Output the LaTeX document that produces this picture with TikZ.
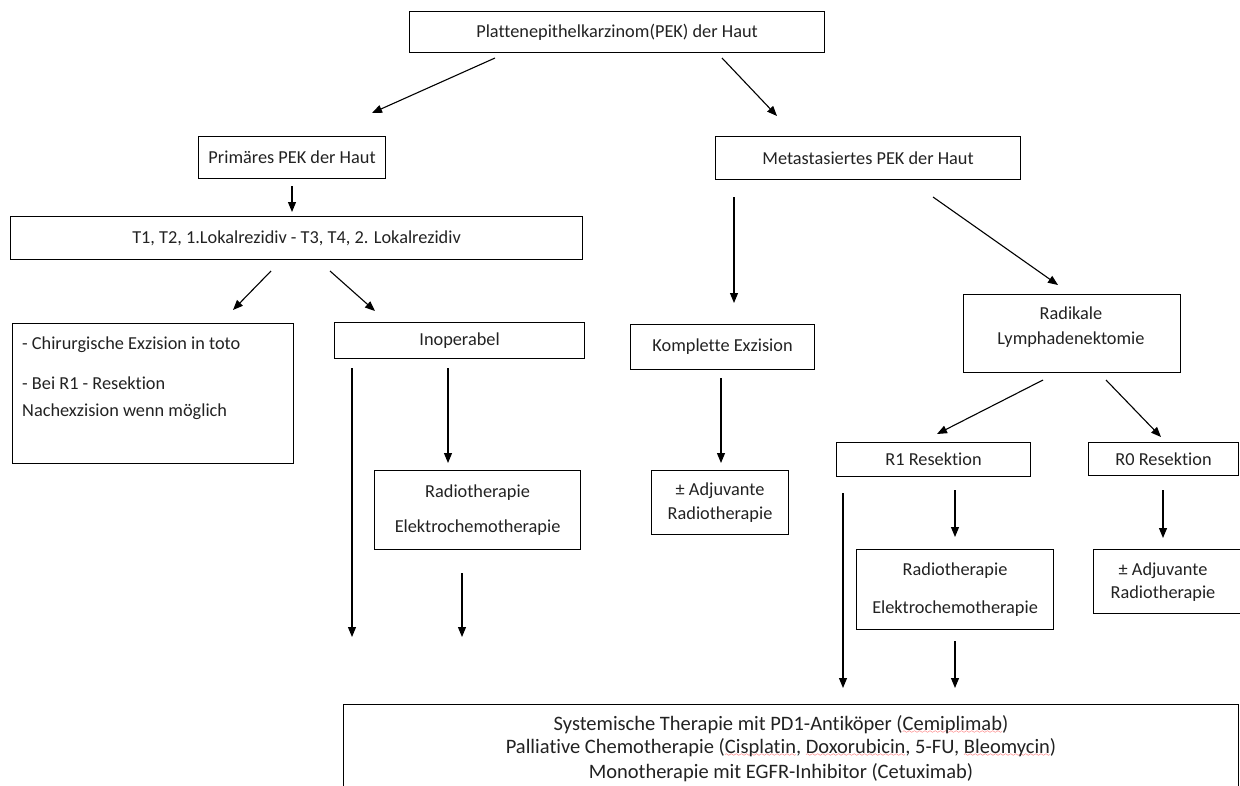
\documentclass[tikz,border=0pt]{standalone}
\usepackage{fontspec}
\setmainfont{Carlito}[Ligatures={NoCommon}]
\usetikzlibrary{arrows.meta,calc}
\font\mysixly=lasy6
\newcommand\spellerr[1]{\setbox0\hbox{#1}\rlap{\textcolor{red}{\lower3.5pt\hbox to \wd0{\xleaders\hbox{\mysixly\char58}\hfil}}}\box0}
\definecolor{txtc}{HTML}{222222}
\begin{document}
\begin{tikzpicture}[x=1pt,y=-1pt,
  box/.style={draw=black, line width=1.1pt, anchor=north west, inner sep=0pt, align=center,
    text=txtc, font=\fontsize{18.3}{24}\selectfont},
  txt/.style={text=txtc, inner sep=0pt, font=\fontsize{18.3}{24}\selectfont},
  bigtxt/.style={text=txtc, inner sep=0pt, font=\fontsize{20.5}{24}\selectfont},
  arr/.style={draw=black, line width=1.1pt, -{Triangle[length=10pt,width=8pt]}}]
\useasboundingbox (0,0) rectangle (1240,785);
\clip (0,0) rectangle (1240,785);

% boxes
\node[box, minimum width=415pt, minimum height=41pt] (top) at (409,11) {Plattenepithelkarzinom(PEK) der Haut};
\node[box, minimum width=187pt, minimum height=42pt] (prim) at (198,136) {Primäres PEK der Haut};
\node[box, minimum width=305pt, minimum height=43pt] (meta) at (715,136) {Metastasiertes PEK der Haut};
\node[box, minimum width=572pt, minimum height=43pt] (tbox) at (10,216) {T1, T2, 1.Lokalrezidiv - T3, T4, 2. Lokalrezidiv};
\node[box, minimum width=281pt, minimum height=140pt] (lbox) at (12,323) {};
\node[txt, anchor=base west, align=left] (lboxt) at (22,416) {- Chirurgische Exzision in toto\\[16pt]- Bei R1 - Resektion\\[3pt]Nachexzision wenn möglich};
\node[box, minimum width=250pt, minimum height=36pt] (inop) at (334,322) {Inoperabel};
\node[box, minimum width=206pt, minimum height=79pt] (rad1) at (374,470) {Radiotherapie\\[11pt]Elektrochemotherapie};
\node[box, minimum width=184pt, minimum height=45pt] (kompl) at (630,324) {Komplette Exzision};
\node[box, minimum width=137pt, minimum height=64pt] (adj1) at (651,470) {± Adjuvante\\[0pt]Radiotherapie};
\node[box, minimum width=217pt, minimum height=78pt] (radik) at (963,294) {};
\node[txt, anchor=base, align=center] (radikt) at (1071,344) {Radikale\\[1pt]Lymphadenektomie};
\node[box, minimum width=194pt, minimum height=34pt] (r1) at (836,442) {R1 Resektion};
\node[box, minimum width=150pt, minimum height=33pt] (r0) at (1088,442) {R0 Resektion};
\node[box, minimum width=197pt, minimum height=80pt] (rad2) at (856,549) {Radiotherapie\\[14pt]Elektrochemotherapie};
\node[box, minimum width=160pt, minimum height=64pt] (adj2) at (1093,549) {};
\node[txt, anchor=base, align=center] (adj2t) at (1163,598) {± Adjuvante\\[-1pt]Radiotherapie};
\node[box, minimum width=895pt, minimum height=110pt] (sys) at (343,704) {};
\node[bigtxt, anchor=base, align=center] (syst) at (781,778) {Systemische Therapie mit PD1-Antiköper (\spellerr{Cemiplimab})\\[-1pt]
Palliative Chemotherapie (\spellerr{Cisplatin}, \spellerr{Doxorubicin}, 5-FU, \spellerr{Bleomycin})\\[1pt]
Monotherapie mit EGFR-Inhibitor (Cetuximab)};

% arrow end points
\coordinate (a1) at (495,58);   \coordinate (a1e) at (372,113);
\coordinate (a2) at (722,58);   \coordinate (a2e) at (777,116);
\coordinate (a3) at (292,186);  \coordinate (a3e) at (292,212);
\coordinate (a4) at (271,271);  \coordinate (a4e) at (233,310);
\coordinate (a5) at (330,271);  \coordinate (a5e) at (375,311);
\coordinate (a6) at (352,368);  \coordinate (a6e) at (352,637);
\coordinate (a7) at (448,368);  \coordinate (a7e) at (448,463);
\coordinate (a8) at (462,573);  \coordinate (a8e) at (462,637);
\coordinate (a9) at (734,197);  \coordinate (a9e) at (734,303);
\coordinate (a10) at (933,197); \coordinate (a10e) at (1058,285);
\coordinate (a11) at (721,378); \coordinate (a11e) at (721,463);
\coordinate (a12) at (1043,380); \coordinate (a12e) at (937,434);
\coordinate (a13) at (1106,380); \coordinate (a13e) at (1161,437);
\coordinate (a14) at (843,493); \coordinate (a14e) at (843,688);
\coordinate (a15) at (955,490); \coordinate (a15e) at (955,537);
\coordinate (a16) at (1163,490); \coordinate (a16e) at (1163,538);
\coordinate (a17) at (955,641); \coordinate (a17e) at (955,688);

\foreach \i in {1,...,17} {\draw[arr] (a\i) -- (a\i e);}
\end{tikzpicture}
\end{document}
